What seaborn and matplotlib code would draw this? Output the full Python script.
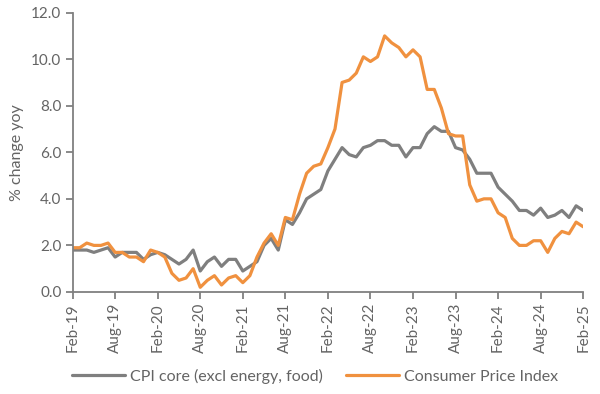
import pandas as pd
import numpy as np
import matplotlib.pyplot as plt
import seaborn as sns

# ── Data: monthly yoy % change, Feb-19 .. Feb-25 ─────────────────────────────
months = pd.date_range('2019-02-01', '2025-02-01', freq='MS')

cpi_core = [
    1.8, 1.8, 1.8, 1.7, 1.8, 1.9, 1.5, 1.7, 1.7, 1.7, 1.4,            # Feb-19 .. Dec-19
    1.6, 1.7, 1.6, 1.4, 1.2, 1.4, 1.8, 0.9, 1.3, 1.5, 1.1, 1.4,       # 2020
    1.4, 0.9, 1.1, 1.3, 2.0, 2.3, 1.8, 3.1, 2.9, 3.4, 4.0, 4.2,       # 2021
    4.4, 5.2, 5.7, 6.2, 5.9, 5.8, 6.2, 6.3, 6.5, 6.5, 6.3, 6.3,       # 2022
    5.8, 6.2, 6.2, 6.8, 7.1, 6.9, 6.9, 6.2, 6.1, 5.7, 5.1, 5.1,       # 2023
    5.1, 4.5, 4.2, 3.9, 3.5, 3.5, 3.3, 3.6, 3.2, 3.3, 3.5, 3.2,       # 2024
    3.7, 3.5,                                                         # 2025
]

cpi_all = [
    1.9, 1.9, 2.1, 2.0, 2.0, 2.1, 1.7, 1.7, 1.5, 1.5, 1.3,            # Feb-19 .. Dec-19
    1.8, 1.7, 1.5, 0.8, 0.5, 0.6, 1.0, 0.2, 0.5, 0.7, 0.3, 0.6,       # 2020
    0.7, 0.4, 0.7, 1.5, 2.1, 2.5, 2.0, 3.2, 3.1, 4.2, 5.1, 5.4,       # 2021
    5.5, 6.2, 7.0, 9.0, 9.1, 9.4, 10.1, 9.9, 10.1, 11.0, 10.7, 10.5,  # 2022
    10.1, 10.4, 10.1, 8.7, 8.7, 7.9, 6.8, 6.7, 6.7, 4.6, 3.9, 4.0,    # 2023
    4.0, 3.4, 3.2, 2.3, 2.0, 2.0, 2.2, 2.2, 1.7, 2.3, 2.6, 2.5,       # 2024
    3.0, 2.8,                                                         # 2025
]

series_names = ['CPI core (excl energy, food)', 'Consumer Price Index']
series_colors = ['#7f7f7f', '#f0913f']

tick_every = 6
tick_labels = [m.strftime('%b-%y') for m in months[::tick_every]]
y_ticks = np.arange(0, 12.1, 2.0)


def plot_cpi(path='out.png'):
    sns.set_theme(style='white')
    plt.rcParams['font.family'] = ['Lato', 'DejaVu Sans']

    df = pd.DataFrame({
        'idx': np.tile(np.arange(len(months)), 2),
        'value': cpi_core + cpi_all,
        'series': np.repeat(series_names, len(months)),
    })

    fig = plt.figure(figsize=(6.0, 3.94), dpi=100)
    ax = fig.add_axes([0.121, 0.259, 0.851, 0.709])

    sns.lineplot(
        data=df, x='idx', y='value', hue='series',
        hue_order=series_names, palette=series_colors,
        linewidth=2.3, ax=ax, legend=True
    )

    # ── Axes styling (Excel-like) ─────────────────────────────────────────
    grey = '#808080'
    text_grey = '#646464'
    for side in ['top', 'right']:
        ax.spines[side].set_visible(False)
    for side in ['left', 'bottom']:
        ax.spines[side].set_color(grey)
        ax.spines[side].set_linewidth(1.3)

    ax.set_xlim(0, len(months) - 1)
    ax.set_ylim(0, 12)
    ax.set_xticks(np.arange(0, len(months), tick_every))
    ax.set_xticklabels(tick_labels, rotation=90)
    ax.set_yticks(y_ticks)
    ax.set_yticklabels([f'{v:.1f}' for v in y_ticks])
    ax.tick_params(axis='both', direction='out', length=5, width=1.3,
                   color=grey, labelcolor=text_grey, labelsize=11,
                   bottom=True, left=True, pad=3)

    ax.set_xlabel('')
    ax.set_ylabel('% change yoy', color=text_grey, fontsize=11.5, labelpad=5)

    # Legend below the axes, centred on the figure
    handles, labels = ax.get_legend_handles_labels()
    ax.get_legend().remove()
    fig.legend(
        handles, labels, loc='center', bbox_to_anchor=(0.525, 0.045),
        ncol=2, frameon=False, fontsize=11.5, handlelength=3.3,
        columnspacing=1.5, handletextpad=0.3, labelcolor=text_grey
    )

    fig.savefig(path, dpi=100)


plot_cpi()
